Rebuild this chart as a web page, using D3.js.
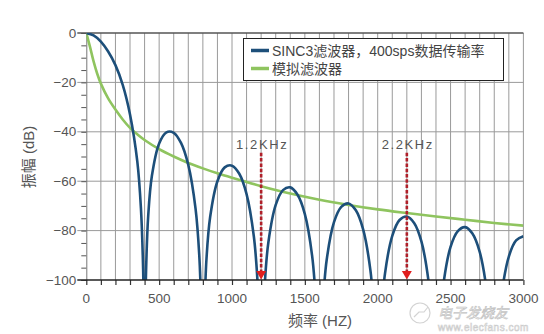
<!DOCTYPE html>
<html>
<head>
<meta charset="utf-8">
<script src="https://cdn.jsdelivr.net/npm/d3@7"></script>
<style>
  html, body { margin: 0; padding: 0; background: #fff; }
  svg { display: block; }
  text { font-family: "Liberation Sans", Arial, "Noto Sans CJK SC", sans-serif; }
</style>
</head>
<body>
<svg id="chart" width="544" height="334"></svg>
<script>
// SINC3 digital filter response (400 sps) — frequency in Hz, magnitude in dB
const sincFreq = [0, 50, 100, 150, 200, 250, 300, 350, 375, 390, 400,
  410, 425, 450, 500, 550, 600, 650, 700, 750, 775, 790, 800,
  810, 825, 850, 900, 950, 1000, 1050, 1100, 1150, 1175, 1190, 1200,
  1210, 1225, 1250, 1300, 1350, 1400, 1450, 1500, 1550, 1575, 1600,
  1625, 1650, 1700, 1750, 1800, 1850, 1900, 1950, 1975, 2000,
  2025, 2050, 2100, 2150, 2200, 2250, 2300, 2350, 2375, 2400,
  2425, 2450, 2500, 2550, 2600, 2650, 2700, 2750, 2775, 2800,
  2825, 2850, 2900, 2950, 3000];
const sincDb = [0, -1, -3.5, -7.5, -13, -21, -33, -52, -71, -95.5, -140,
  -96.8, -74, -57.9, -44.7, -40.2, -40.4, -44.5, -53.4, -71.2, -89.6, -113.9, -140,
  -114.5, -91.3, -74.5, -60, -54.4, -53.7, -57, -65.2, -82.4, -100.5, -124.6, -140,
  -125, -101.6, -84.6, -69.6, -63.6, -62.5, -65.5, -73.3, -90.2, -108.1, -140,
  -108.9, -91.8, -76.6, -70.4, -69, -71.8, -79.5, -96.1, -114, -140,
  -114.7, -97.4, -82.1, -75.7, -74.3, -76.9, -84.4, -101, -118.8, -140,
  -119.4, -102.1, -86.6, -80.2, -78.6, -81.2, -88.6, -105.1, -122.9, -140,
  -123.4, -106, -90.5, -84, -82.3];

// Analog anti-alias filter response
const analogFreq = [0, 10, 25, 50, 75, 100, 150, 200, 250, 300, 350, 400, 500, 600, 700,
  800, 900, 1000, 1200, 1400, 1600, 1800, 2000, 2200, 2400, 2600, 2800, 3000];
const analogDb = [0, -2.2, -5.5, -11.5, -16.5, -20.5, -26.5, -31, -35, -38.4, -41, -43.3, -47, -50, -52.6,
  -54.8, -56.8, -58.6, -62, -65, -67.5, -69.6, -71.4, -72.9, -74.3, -75.6, -76.9, -78];

// Axis ticks
const xTickLabels = [0, 500, 1000, 1500, 2000, 2500, 3000];
const xGridFreq = d3.range(0, 3001, 100);
const yTickLabels = [0, -20, -40, -60, -80, -100];
const yMinorTicks = d3.range(0, -101, -5);

// Marked frequencies (Hz), label text, top of the marker line (dB)
const markFreq = [1200, 2200];
const markText = ["1.2KHz", "2.2KHz"];
const markTopDb = [-48.5, -48.5];

const legendLabels = ["SINC3滤波器，400sps数据传输率", "模拟滤波器"];
const seriesColors = ["#1d4f7a", "#8fc45f"];

const svg = d3.select("#chart");
const m = { left: 86.3, right: 523.4, top: 33, bottom: 280 };

const x = d3.scaleLinear().domain([0, 3000]).range([m.left, m.right]);
const y = d3.scaleLinear().domain([-100, 0]).range([m.bottom, m.top]);

svg.append("defs").append("clipPath").attr("id", "plot-clip")
  .append("rect")
  .attr("x", m.left).attr("y", m.top)
  .attr("width", m.right - m.left).attr("height", m.bottom - m.top);

// Vertical grid every 100 Hz
svg.append("g").selectAll("line").data(xGridFreq.filter(d => d > 0)).join("line")
  .attr("x1", d => x(d)).attr("x2", d => x(d))
  .attr("y1", m.top).attr("y2", m.bottom)
  .attr("stroke", "#9a9a9a").attr("stroke-width", 1);

// Horizontal grid every 20 dB
svg.append("g").selectAll("line").data(yTickLabels.filter(d => d < 0 && d > -100)).join("line")
  .attr("x1", m.left - 9).attr("x2", m.right)
  .attr("y1", d => y(d)).attr("y2", d => y(d))
  .attr("stroke", "#9a9a9a").attr("stroke-width", 1);

// Left axis with minor ticks every 5 dB
const yAxis = d3.axisLeft(y).tickValues(yMinorTicks).tickSize(5).tickFormat("");
const gy = svg.append("g").attr("transform", `translate(${m.left},0)`).call(yAxis);
gy.select(".domain").attr("stroke", "#777").attr("stroke-width", 1);
gy.selectAll(".tick line").attr("stroke", "#555");

// Y tick labels
svg.append("g").selectAll("text").data(yTickLabels).join("text")
  .attr("x", m.left - 10).attr("y", d => y(d) + 4.5)
  .attr("text-anchor", "end")
  .attr("font-size", 13.5).attr("fill", "#555")
  .text(d => d === 0 ? "0" : "\u2212" + Math.abs(d));

// Top border at 0 dB
svg.append("line")
  .attr("x1", m.left - 9).attr("x2", m.right)
  .attr("y1", y(0)).attr("y2", y(0))
  .attr("stroke", "#555").attr("stroke-width", 1.6);

// Curves
const line = d3.line().x(d => x(d[0])).y(d => y(d[1])).curve(d3.curveCatmullRom.alpha(0.5));
const plot = svg.append("g").attr("clip-path", "url(#plot-clip)");

plot.append("path")
  .datum(analogFreq.map((f, i) => [f, analogDb[i]]))
  .attr("d", line).attr("fill", "none")
  .attr("stroke", seriesColors[1]).attr("stroke-width", 2.6);

plot.append("path")
  .datum(sincFreq.map((f, i) => [f, sincDb[i]]))
  .attr("d", line).attr("fill", "none")
  .attr("stroke", seriesColors[0]).attr("stroke-width", 2.6)
  .attr("stroke-linejoin", "round");

// Bottom axis
const xAxis = d3.axisBottom(x).tickValues(xGridFreq).tickSize(5).tickFormat("");
const gx = svg.append("g").attr("transform", `translate(0,${m.bottom})`).call(xAxis);
gx.select(".domain").remove();
gx.selectAll(".tick line").attr("stroke", "#333").attr("stroke-width", 1.2);
svg.append("line")
  .attr("x1", m.left - 9).attr("x2", m.right)
  .attr("y1", m.bottom).attr("y2", m.bottom)
  .attr("stroke", "#222").attr("stroke-width", 1.6);

svg.append("g").selectAll("text").data(xTickLabels).join("text")
  .attr("x", d => x(d)).attr("y", 303)
  .attr("text-anchor", "middle")
  .attr("font-size", 13.5).attr("fill", "#555")
  .text(d => d);

// Frequency markers
const marks = svg.append("g");
markFreq.forEach((f, i) => {
  marks.append("line")
    .attr("x1", x(f)).attr("x2", x(f))
    .attr("y1", y(markTopDb[i])).attr("y2", m.bottom - 8)
    .attr("stroke", "#b0202a").attr("stroke-width", 2.6)
    .attr("stroke-dasharray", "3.5,1.8");
  marks.append("path")
    .attr("d", `M${x(f) - 5},${m.bottom - 9} L${x(f) + 5},${m.bottom - 9} L${x(f)},${m.bottom - 0.5} Z`)
    .attr("fill", "#e01e1e");
  marks.append("text")
    .attr("x", x(f) + 1).attr("y", y(markTopDb[i]) - 4)
    .attr("text-anchor", "middle")
    .attr("font-size", 13).attr("fill", "#555")
    .attr("letter-spacing", 1.6)
    .text(markText[i]);
});

// Axis titles
svg.append("text")
  .attr("x", 320).attr("y", 326)
  .attr("text-anchor", "middle")
  .attr("font-size", 15).attr("fill", "#555")
  .text("频率 (HZ)");
svg.append("text")
  .attr("transform", "translate(34,157) rotate(-90)")
  .attr("text-anchor", "middle")
  .attr("font-size", 15).attr("fill", "#555")
  .text("振幅 (dB)");

// Legend
const lg = svg.append("g");
lg.append("rect")
  .attr("x", 243.5).attr("y", 38.5).attr("width", 260).attr("height", 42)
  .attr("fill", "#fff").attr("stroke", "#222").attr("stroke-width", 1);
legendLabels.forEach((t, i) => {
  const ly = 50.5 + i * 18;
  lg.append("line")
    .attr("x1", 251).attr("x2", 269).attr("y1", ly).attr("y2", ly)
    .attr("stroke", seriesColors[i]).attr("stroke-width", 3.5);
  lg.append("text")
    .attr("x", 272).attr("y", ly + 5.5)
    .attr("font-size", 14).attr("fill", "#444")
    .text(t);
});

// Site mark
const wm = svg.append("g").attr("opacity", 0.85);
wm.append("circle").attr("cx", 420).attr("cy", 313).attr("r", 10)
  .attr("fill", "rgba(255,255,255,0.5)").attr("stroke", "#ccc").attr("stroke-width", 1.2);
wm.append("path").attr("d", "M414,317 L419,312 L424,312 L428,307")
  .attr("fill", "none").attr("stroke", "#ccc").attr("stroke-width", 1.2);
wm.append("text").attr("x", 438).attr("y", 318)
  .attr("font-size", 14).attr("font-style", "italic")
  .attr("fill", "rgba(255,255,255,0.75)").attr("stroke", "#bbb").attr("stroke-width", 0.7)
  .text("电子发烧友");
wm.append("text").attr("x", 438).attr("y", 331)
  .attr("font-size", 10).attr("letter-spacing", 0.5)
  .attr("fill", "#fff").attr("stroke", "#c4c4c4").attr("stroke-width", 0.6)
  .text("www.elecfans.com");
</script>
</body>
</html>
